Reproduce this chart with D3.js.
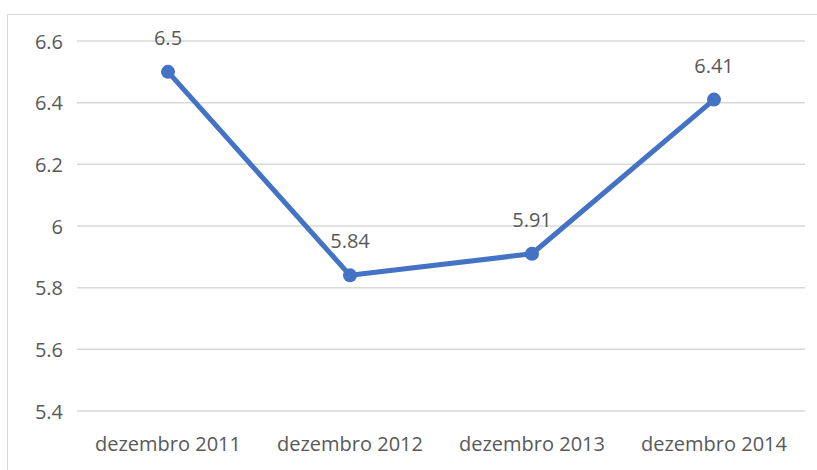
<!DOCTYPE html>
<html><head><meta charset="utf-8">
<script src="https://cdn.jsdelivr.net/npm/d3@7"></script>
<style>body{margin:0;background:#fff}svg{display:block}text{font-family:"Open Sans","Noto Sans",sans-serif}</style>
</head><body><svg id="c" width="817" height="470"></svg>
<script>
const categories = ["dezembro 2011","dezembro 2012","dezembro 2013","dezembro 2014"];
const values = [6.5, 5.84, 5.91, 6.41];
const yTicks = [5.4, 5.6, 5.8, 6.0, 6.2, 6.4, 6.6];
const yTickLabels = ["5.4","5.6","5.8","6","6.2","6.4","6.6"];

const svg = d3.select("#c");
svg.append("rect").attr("x",7.5).attr("y",14.5).attr("width",830).attr("height",480)
  .attr("fill","#fff").attr("stroke","#d9d9d9");
const x = d3.scaleBand().domain(categories).range([77,805]);
const y = d3.scaleLinear().domain([5.4,6.6]).range([411,41]);

svg.append("g").selectAll("line").data(yTicks).join("line")
  .attr("x1",77).attr("x2",805).attr("y1",d=>y(d)).attr("y2",d=>y(d))
  .attr("stroke","#d9d9d9").attr("stroke-width",1.5);
svg.append("g").selectAll("text").data(yTicks).join("text")
  .attr("x",63).attr("y",d=>y(d)+0.5).attr("dy","0.35em").attr("text-anchor","end")
  .attr("font-size",20).attr("fill","#595959").text((d,i)=>yTickLabels[i]);
svg.append("g").selectAll("text").data(categories).join("text")
  .attr("x",d=>x(d)+x.bandwidth()/2).attr("y",444).attr("dy","0.35em").attr("text-anchor","middle")
  .attr("font-size",20).attr("fill","#595959").text(d=>d);

const pts = categories.map((c,i)=>({c,v:values[i]}));
svg.append("path").datum(pts).attr("fill","none").attr("stroke","#4472C4").attr("stroke-width",5)
  .attr("stroke-linejoin","round")
  .attr("d",d3.line().x(d=>x(d.c)+x.bandwidth()/2).y(d=>y(d.v)));
svg.append("g").selectAll("circle").data(pts).join("circle")
  .attr("cx",d=>x(d.c)+x.bandwidth()/2).attr("cy",d=>y(d.v)).attr("r",7).attr("fill","#4472C4");
svg.append("g").selectAll("text").data(pts).join("text")
  .attr("x",d=>x(d.c)+x.bandwidth()/2).attr("y",d=>y(d.v)-34).attr("dy","0.35em").attr("text-anchor","middle")
  .attr("font-size",20).attr("fill","#595959").text(d=>String(d.v));
</script></body></html>
